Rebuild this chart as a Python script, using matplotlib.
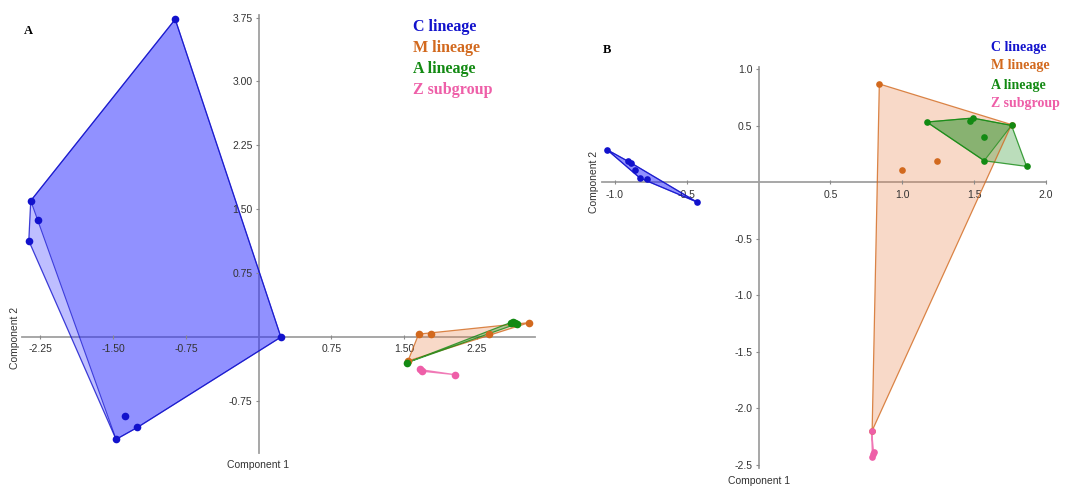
import numpy as np
import matplotlib
matplotlib.use("Agg")
import matplotlib.pyplot as plt

W, H = 1066, 488

GROUPS = ["C lineage", "M lineage", "A lineage", "Z subgroup"]
COLORS = ["#1212cc", "#d2691e", "#138a13", "#ee5fa8"]
FILLS = ["#2a2aff", "#e8844a", "#1f8f1f", "#ee5fa8"]
TICK_FONT = ["Liberation Sans", "DejaVu Sans"]

# panel A (component 1 / component 2)
a_c_x = [-0.86, -2.35, -2.27, -2.37, 0.23, -1.47, -1.38, -1.25]
a_c_y = [3.73, 1.60, 1.375, 1.13, 0.0, -1.20, -0.93, -1.06]
a_m_x = [1.65, 1.78, 2.38, 2.79, 1.54]
a_m_y = [0.035, 0.035, 0.035, 0.17, -0.28]
a_a_x = [1.53, 2.60, 2.62, 2.645, 2.66]
a_a_y = [-0.30, 0.17, 0.18, 0.17, 0.155]
a_z_x = [1.66, 1.68, 2.02]
a_z_y = [-0.38, -0.40, -0.44]
a_skip = [3, None, None, None]   # point left out of the second (darker) fill layer

a_xticks = [-2.25, -1.5, -0.75, 0.75, 1.5, 2.25]
a_yticks = [-0.75, 0.75, 1.5, 2.25, 3.0, 3.75]

# panel B
b_c_x = [-1.055, -0.91, -0.887, -0.86, -0.826, -0.78, -0.43]
b_c_y = [0.288, 0.184, 0.17, 0.11, 0.037, 0.03, -0.175]
b_m_x = [0.84, 1.00, 1.24, 0.79, 1.76]
b_m_y = [0.87, 0.11, 0.19, -2.20, 0.51]
b_a_x = [1.17, 1.47, 1.49, 1.76, 1.57, 1.57, 1.865]
b_a_y = [0.533, 0.544, 0.568, 0.503, 0.40, 0.19, 0.14]
b_z_x = [0.786, 0.795, 0.80, 0.792]
b_z_y = [-2.20, -2.41, -2.39, -2.43]
b_skip = [5, None, 6, None]

b_xticks = [-1.0, -0.5, 0.5, 1.0, 1.5, 2.0]
b_yticks = [-2.5, -2.0, -1.5, -1.0, -0.5, 0.5, 1.0]


def hull(x, y):
    pts = sorted(set(zip(x, y)))
    if len(pts) < 3:
        return np.array(pts)

    def cross(o, a, b):
        return (a[0] - o[0]) * (b[1] - o[1]) - (a[1] - o[1]) * (b[0] - o[0])

    lower, upper = [], []
    for p in pts:
        while len(lower) >= 2 and cross(lower[-2], lower[-1], p) <= 0:
            lower.pop()
        lower.append(p)
    for p in reversed(pts):
        while len(upper) >= 2 and cross(upper[-2], upper[-1], p) <= 0:
            upper.pop()
        upper.append(p)
    return np.array(lower[:-1] + upper[:-1])


def draw_group(ax, x, y, color, fill, skip, ms):
    h = hull(x, y)
    ax.fill(h[:, 0], h[:, 1], color=fill, alpha=0.3, lw=0, clip_on=False)
    ax.plot(np.append(h[:, 0], h[0, 0]), np.append(h[:, 1], h[0, 1]),
            color=color, lw=0.9, alpha=0.8, clip_on=False)
    if skip is not None:
        xs = [v for i, v in enumerate(x) if i != skip]
        ys = [v for i, v in enumerate(y) if i != skip]
        h2 = hull(xs, ys)
        ax.fill(h2[:, 0], h2[:, 1], color=fill, alpha=0.3, lw=0, clip_on=False)
        ax.plot(np.append(h2[:, 0], h2[0, 0]), np.append(h2[:, 1], h2[0, 1]),
                color=color, lw=0.8, alpha=0.7, clip_on=False)
    ax.plot(x, y, "o", color=color, ms=ms, mew=0, clip_on=False, zorder=5)


def style_axes(ax, xticks, yticks, xfmt, yfmt):
    for s in ["top", "right"]:
        ax.spines[s].set_visible(False)
    for s in ["left", "bottom"]:
        ax.spines[s].set_position(("data", 0))
        ax.spines[s].set_color("#a0a0a0")
        ax.spines[s].set_linewidth(1.3)
        ax.spines[s].set_zorder(0)
    ax.set_xticks(xticks)
    ax.set_xticklabels([xfmt.format(v) for v in xticks])
    ax.set_yticks(yticks)
    ax.set_yticklabels([yfmt.format(v) for v in yticks])
    ax.tick_params(axis="both", colors="#8a8a8a", labelcolor="#333333",
                   labelsize=7.5, length=2.5, width=0.8, pad=2)
    ax.tick_params(axis="x", direction="inout", pad=4)
    for lab in ax.get_xticklabels() + ax.get_yticklabels():
        lab.set_family(TICK_FONT)
    ax.patch.set_alpha(0)


def px(x0, y0, x1, y1):
    return [x0 / W, 1 - y1 / H, (x1 - x0) / W, (y1 - y0) / H]


fig = plt.figure(figsize=(W / 100, H / 100), dpi=100)

# ---- panel A
axA = fig.add_axes(px(22, 15, 535, 453))
axA.set_xlim(-2.44, 2.85)
axA.set_ylim(-1.36, 3.78)
for gx, gy, col, fil, sk in zip([a_c_x, a_m_x, a_a_x, a_z_x], [a_c_y, a_m_y, a_a_y, a_z_y],
                                COLORS, FILLS, a_skip):
    draw_group(axA, gx, gy, col, fil, sk, 5.5)
style_axes(axA, a_xticks, a_yticks, "{:.2f}", "{:.2f}")

# ---- panel B
axB = fig.add_axes(px(602, 67, 1046, 468))
axB.set_xlim(-1.09, 2.0)
axB.set_ylim(-2.53, 1.02)
for gx, gy, col, fil, sk in zip([b_c_x, b_m_x, b_a_x, b_z_x], [b_c_y, b_m_y, b_a_y, b_z_y],
                                COLORS, FILLS, b_skip):
    draw_group(axB, gx, gy, col, fil, sk, 4.8)
style_axes(axB, b_xticks, b_yticks, "{:.1f}", "{:.1f}")

# axis titles
lab_font = dict(fontsize=7.5, color="#333333", family=TICK_FONT)
fig.text(258 / W, 1 - 465 / H, "Component 1", ha="center", va="center", **lab_font)
fig.text(15 / W, 1 - 338 / H, "Component 2", ha="center", va="center", rotation=90, **lab_font)
fig.text(759 / W, 1 - 481 / H, "Component 1", ha="center", va="center", **lab_font)
fig.text(594 / W, 1 - 182 / H, "Component 2", ha="center", va="center", rotation=90, **lab_font)

# panel letters
fig.text(28 / W, 1 - 31 / H, "A", ha="center", va="center", fontsize=9,
         fontweight="bold", family="Liberation Serif")
fig.text(607 / W, 1 - 50 / H, "B", ha="center", va="center", fontsize=9,
         fontweight="bold", family="Liberation Serif")

# group legends as coloured text
for i, (name, col) in enumerate(zip(GROUPS, COLORS)):
    fig.text(413 / W, 1 - (27 + 21 * i) / H, name, ha="left", va="center", color=col,
             fontsize=11.5, fontweight="bold", family="Liberation Serif")
    fig.text(991 / W, 1 - (47 + 19 * i) / H, name, ha="left", va="center", color=col,
             fontsize=10, fontweight="bold", family="Liberation Serif")

fig.savefig("out.png", dpi=100)
